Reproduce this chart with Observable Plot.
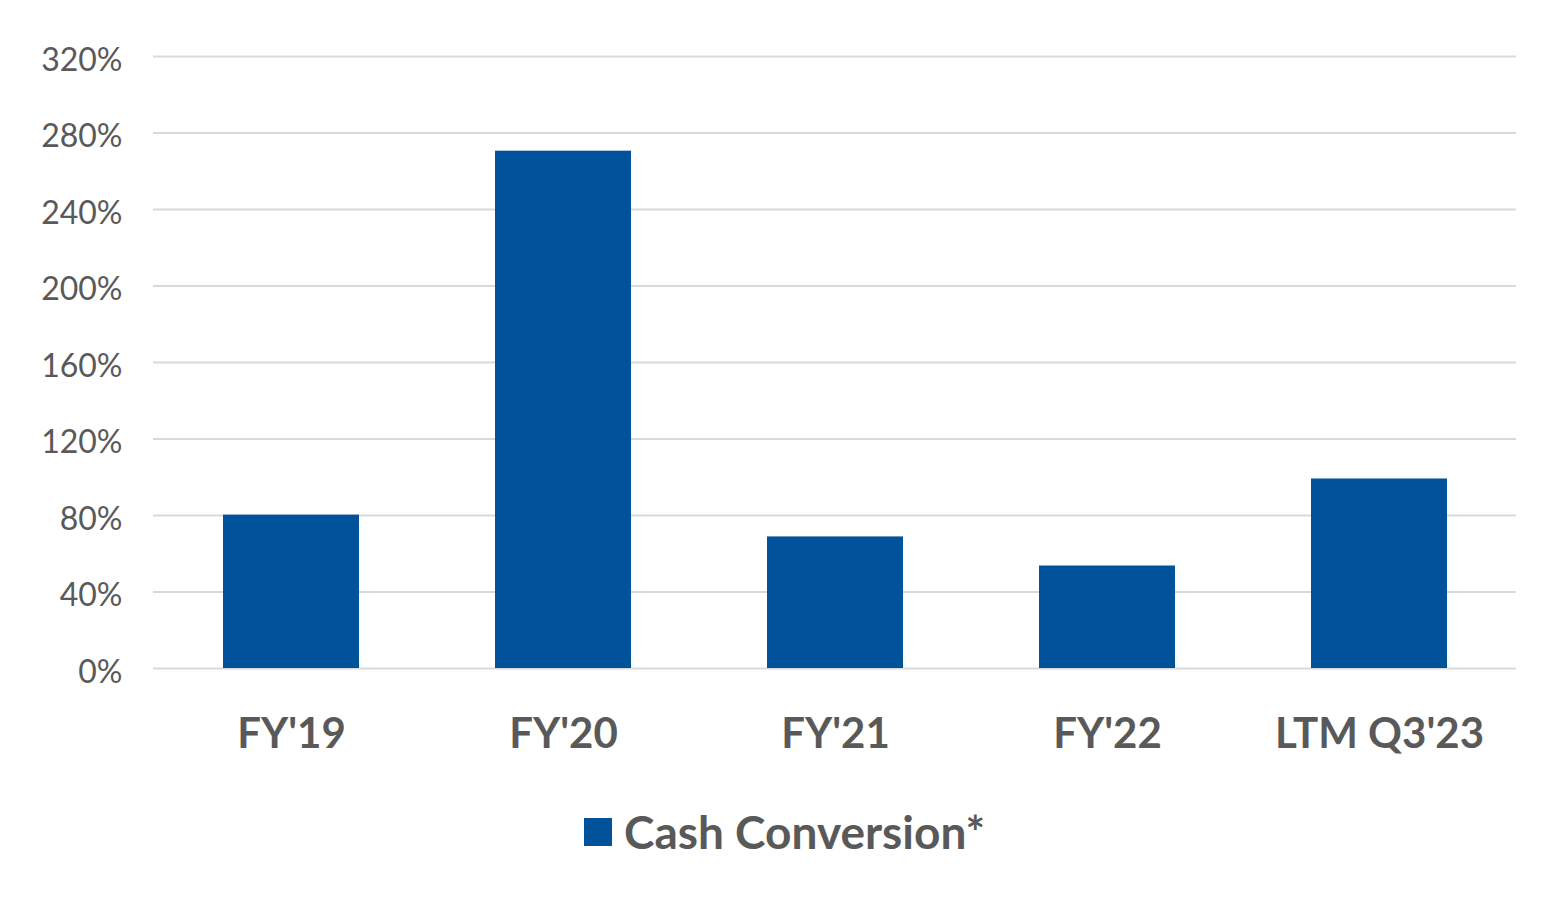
<!DOCTYPE html>
<html>
<head>
<meta charset="utf-8">
<script src="https://cdn.jsdelivr.net/npm/d3@7"></script>
<script src="https://cdn.jsdelivr.net/npm/@observablehq/plot@0.6"></script>
<style>
  html, body { margin: 0; padding: 0; background: #fff; }
  body { width: 1563px; height: 900px; position: relative; font-family: Lato, "Open Sans", sans-serif; }
  #legend { position: absolute; left: 0; width: 1563px; top: 804px; display: flex; justify-content: center; align-items: center; gap: 12px; color: #595959; font-weight: bold; font-size: 46px; padding-left: 6px; box-sizing: border-box; }
  #legend .sw { width: 28px; height: 28px; background: #00539a; display: inline-block; }
</style>
</head>
<body>
<div id="chart"></div>
<div id="legend"><span class="sw"></span><span>Cash Conversion*</span></div>
<script>
const categories = ["FY'19", "FY'20", "FY'21", "FY'22", "LTM Q3'23"];
const cashConversion = [80.2, 270.5, 68.8, 53.6, 99.1];
const yTicks = [0, 40, 80, 120, 160, 200, 240, 280, 320];
const seriesName = "Cash Conversion*";

const data = categories.map((c, i) => ({category: c, value: cashConversion[i]}));

const chart = Plot.plot({
  width: 1563,
  height: 790,
  marginTop: 56,
  marginBottom: 122,
  marginLeft: 153,
  marginRight: 47,
  style: {fontFamily: "Lato, 'Open Sans', sans-serif", color: "#595959", background: "#fff"},
  x: {domain: categories, paddingInner: 0.5, paddingOuter: 0.25, label: null},
  y: {domain: [0, 320], label: null},
  marks: [
    Plot.gridY(yTicks, {stroke: "#d9d9d9", strokeOpacity: 1, strokeWidth: 2}),
    Plot.barY(data, {x: "category", y: "value", fill: "#00539a", title: d => `${seriesName}: ${d.value}%`}),
    Plot.axisY(yTicks, {tickSize: 0, tickPadding: 31, tickFormat: d => d + "%", fontSize: 32, fill: "#595959", dy: 4}),
    Plot.axisX({tickSize: 0, tickPadding: 50, fontSize: 42, fontWeight: "bold", fill: "#595959"})
  ]
});
document.getElementById("chart").appendChild(chart);
</script>
</body>
</html>
